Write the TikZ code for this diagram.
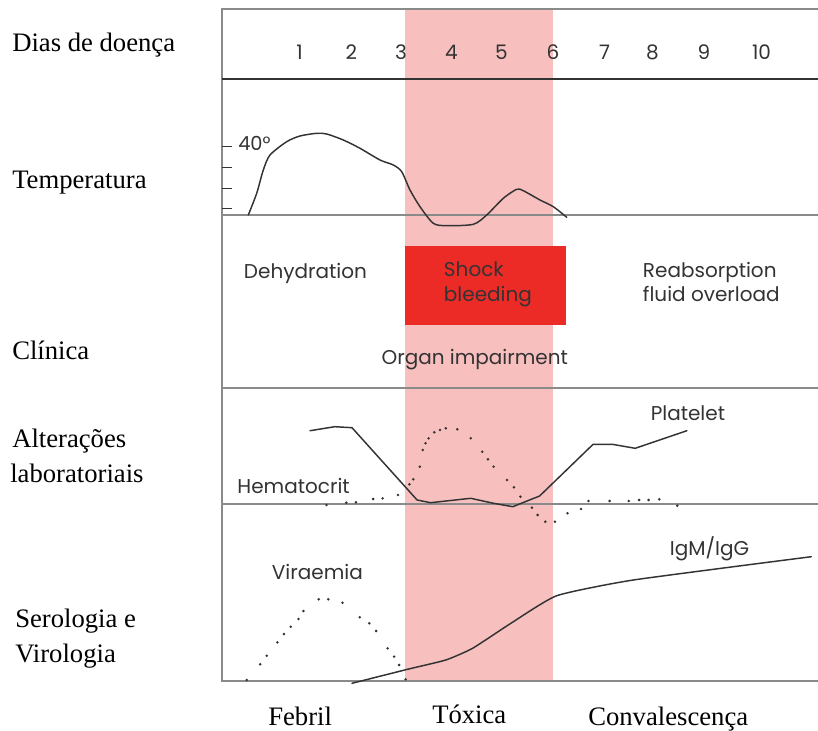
\documentclass[tikz,border=0pt]{standalone}
\usepackage{fontspec}
\setmainfont{Liberation Serif}
\newfontfamily\geo{Poppins}
\definecolor{bandpink}{HTML}{F8BFBF}
\definecolor{shockred}{HTML}{EC2B27}
\definecolor{ink}{HTML}{333333}
\definecolor{rule}{HTML}{8A8A8A}
\begin{document}
\begin{tikzpicture}[x=0.75pt,y=-0.75pt,
  lbl/.style={anchor=base west,inner sep=0pt,font=\fontsize{20}{24}\selectfont,text=black},
  geotext/.style={anchor=base west,inner sep=0pt,font=\geo\fontsize{15}{18}\selectfont,text=ink},
  daynum/.style={anchor=base,inner sep=0pt,font=\geo\fontsize{15}{18}\selectfont,text=ink},
  curve/.style={draw=ink,line width=1.1pt,line join=round,line cap=round},
  gridline/.style={draw=rule,line width=0.8pt},
  headline/.style={draw=ink,line width=1.2pt},
  dotmark/.style={fill=ink}]
\useasboundingbox (0,0) rectangle (818,731);
% band and shock box
\fill[bandpink] (405,10) rectangle (553,680);
\node[fill=shockred,inner sep=0pt,minimum width=120.75pt,minimum height=59.6pt,anchor=north west] (shockbox) at (405,245.5) {};
% frame and rules
\draw[gridline] (818,9) -- (222,9) -- (222,681) -- (818,681);
\draw[headline] (222,79) -- (818,79);
\draw[gridline] (222,215) -- (818,215);
\draw[gridline] (222,388) -- (818,388);
\draw[gridline] (222,504) -- (818,504);
% left labels
\node[lbl] (dias) at (12,52) {Dias de doença};
\node[lbl] (temp) at (12,189) {Temperatura};
\node[lbl] (clin) at (12,359) {Clínica};
\node[lbl] (alt1) at (12,447.5) {Alterações};
\node[lbl] (alt2) at (10,482.5) {laboratoriais};
\node[lbl] (ser1) at (15,627) {Serologia e};
\node[lbl] (ser2) at (15,662) {Virologia};
\node[lbl] (febril) at (268,725) {Febril};
\node[lbl] (toxica) at (432,723.5) {Tóxica};
\node[lbl] (conv) at (588,725) {Convalescença};
% day numbers
\foreach \n/\x in {1/299.6,2/351.3,3/401,4/451.5,5/501.3,6/553,7/604.6,8/652.5,9/704,10/761.5}
  \node[daynum] (d\n) at (\x,59.3) {\n};
% temperature
\foreach \y in {146.7,167.3,188.3,208.3} \draw[draw=ink,line width=0.8pt] (222,\y) -- (232,\y);
\node[geotext,font=\geo\fontsize{14.5}{17}\selectfont] (forty) at (238,150.5) {40°};
\draw[curve] plot[smooth,tension=0.45] coordinates {(248.3,215) (256.7,193.3) (263.3,170) (270,155) (286.7,141.7) (300,136) (316.7,133.3) (326.7,134) (343.3,140) (360,148.3) (380,160) (393.3,165) (401.7,171.7) (410,190) (420,206.7) (433.3,223.3) (446.7,225.7) (473.3,224.3) (486.7,215) (503.3,198.3) (516.7,189.3) (523.3,190.7) (540,200) (553.3,206.7) (566.7,217.3)};
% clinical texts
\node[geotext] (dehyd) at (243.7,278.3) {Dehydration};
\node[geotext] (shock) at (443.7,276.7) {Shock};
\node[geotext] (bleed) at (443.7,301.7) {bleeding};
\node[geotext] (reab) at (642.7,277.3) {Reabsorption};
\node[geotext] (fluid) at (642.7,301.7) {fluid overload};
\node[geotext] (organ) at (381.3,364.3) {Organ impairment};
% laboratory
\node[geotext] (plat) at (650.5,420) {Platelet};
\node[geotext] (hema) at (237.2,493.3) {Hematocrit};
\draw[curve] (310,430.7) -- (334.8,426.7) -- (352,427.7) -- (417.1,500) -- (430.5,502.7) -- (470.7,498.3) -- (493.6,503.3) -- (512.8,506.7) -- (539.6,496) -- (593.1,444.3) -- (612.3,444.3) -- (635.2,448.3) -- (686.9,430.7);
\foreach \p in {(326.4,505),(346.3,502.7),(355.9,502.3),(373.1,499),(382.6,498.3),(398,495),(409.4,484.3),(413.3,479.3),(419.8,466.7),(422.8,450),(425.5,443.3),(428.6,438.3),(434.3,432.3),(440,430),(445.8,428.3),(457.3,429.3),(470.7,438.3),(482.2,451.7),(487.9,459.3),(493.6,466.7),(507,480),(513.9,487.3),(520.4,496.7),(531.9,507.7),(537.6,515),(545.3,521.7),(554.9,521.7),(567.5,513.3),(580.9,509),(588.5,501),(609.6,501),(628.7,501),(639.1,500),(648.6,500),(659.3,499.3),(677.3,505.7)}
  \fill[dotmark] \p circle (1.4);
% serology
\node[geotext] (igm) at (669.7,555) {IgM/IgG};
\node[geotext] (vir) at (271.7,579) {Viraemia};
\draw[curve] plot[smooth,tension=0.3] coordinates {(352,683.3) (407.5,669.3) (445.8,660) (472.6,648.3) (510.9,623.3) (556.8,595.7) (633.3,580) (811.3,556.7)};
\foreach \p in {(246.8,680),(260.2,664.3),(266.7,655.7),(277.4,642.3),(283.9,634),(290.8,626.7),(298.5,619),(303.4,611),(318.7,599.3),(328.3,599.3),(342.5,602.7),(359.7,617.3),(369.3,623.3),(376.1,631),(387.6,648.3),(394.1,656.7),(399.1,665),(405.6,679.3)}
  \fill[dotmark] \p circle (1.4);
\end{tikzpicture}
\end{document}
